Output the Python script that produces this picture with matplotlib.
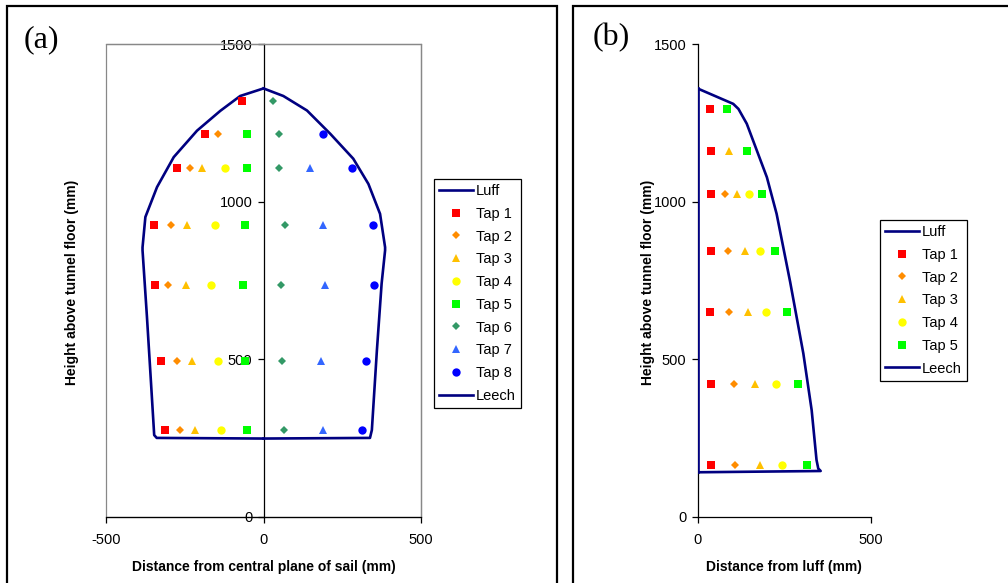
import numpy as np
import matplotlib
matplotlib.use('Agg')
import matplotlib.pyplot as plt
from matplotlib.lines import Line2D
from matplotlib.patches import Rectangle

plt.rcParams['font.family'] = ['Liberation Sans', 'DejaVu Sans']
plt.rcParams['axes.unicode_minus'] = False

# ── panel (a) data: spinnaker, taps by row (mm) ──────────────────────────────
rows_a = [1320, 1215, 1105, 925, 735, 495, 275]
taps_a = {
    'Tap 1': (rows_a,      [-68, -185, -276, -347, -344, -324, -312]),
    'Tap 2': (rows_a[1:],  [-145, -233, -293, -304, -275, -266]),
    'Tap 3': (rows_a[2:],  [-195, -242, -246, -227, -217]),
    'Tap 4': (rows_a[2:],  [-121, -155, -166, -146, -136]),
    'Tap 5': (rows_a[1:],  [-51, -51, -58, -64, -58, -53]),
    'Tap 6': (rows_a,      [31, 49, 49, 69, 55, 60, 65]),
    'Tap 7': (rows_a[2:],  [149, 188, 194, 182, 190]),
    'Tap 8': (rows_a[1:],  [189, 281, 348, 352, 326, 314]),
}
luff_a_x = [0, -339, -347, -357, -370, -384, -384, -375, -338, -285, -211, -137, -74, 0]
luff_a_y = [248, 250, 259, 423, 634, 845, 855, 951, 1046, 1141, 1225, 1288, 1335, 1359]
leech_a_x = [0, 63, 138, 212, 285, 333, 370, 386, 386, 375, 360, 344, 338, 0]
leech_a_y = [1359, 1335, 1289, 1215, 1136, 1056, 961, 855, 845, 740, 528, 275, 250, 248]

# ── panel (b) data: jib ───────────────────────────────────────────────────────
rows_b = [1294, 1160, 1025, 844, 649, 420, 165]
taps_b = {
    'Tap 1': (rows_b,     [36, 39, 39, 39, 36, 39, 39]),
    'Tap 2': (rows_b[2:], [78, 88, 91, 104, 109]),
    'Tap 3': (rows_b[1:], [92, 113, 137, 146, 165, 179]),
    'Tap 4': (rows_b[2:], [149, 181, 198, 225, 243]),
    'Tap 5': (rows_b,     [86, 143, 186, 224, 257, 289, 316]),
}
luff_b_x = [0, 0]
luff_b_y = [141, 1359]
leech_b_x = [0, 103, 118, 142, 200, 228, 267, 305, 329, 343, 348, 355, 0]
leech_b_y = [1359, 1310, 1294, 1247, 1077, 961, 745, 518, 338, 180, 153, 145, 141]

STYLE = {
    'Tap 1': dict(marker='s', color='#FF0000', ms=5.5),
    'Tap 2': dict(marker='D', color='#FF8C00', ms=4.5),
    'Tap 3': dict(marker='^', color='#FFC000', ms=6),
    'Tap 4': dict(marker='o', color='#FFFF00', ms=6),
    'Tap 5': dict(marker='s', color='#00FF00', ms=5.5),
    'Tap 6': dict(marker='D', color='#339966', ms=4.5),
    'Tap 7': dict(marker='^', color='#3366FF', ms=6),
    'Tap 8': dict(marker='o', color='#0000FF', ms=6),
}
NAVY = '#000080'

W, H = 1008, 583
fig = plt.figure(figsize=(W / 100, H / 100), dpi=100)

# outer panel frames
fig.patches.append(Rectangle((7 / W, -0.05), 550 / W, 1.05 - 6 / H, transform=fig.transFigure,
                             fill=False, edgecolor='black', linewidth=1.6))
fig.patches.append(Rectangle((573 / W, -0.05), 0.5, 1.05 - 6 / H, transform=fig.transFigure,
                             fill=False, edgecolor='black', linewidth=1.6))


def fig_box(x0, x1, ytop, ybot):
    return [x0 / W, 1 - ybot / H, (x1 - x0) / W, (ybot - ytop) / H]


def draw_taps(ax, taps, lx, ly, rx, ry):
    handles = []
    ax.plot(lx, ly, color=NAVY, linewidth=1.9, zorder=3)
    handles.append(Line2D([0], [0], color=NAVY, linewidth=1.9, label='Luff'))
    for name, (ys, xs) in taps.items():
        st = STYLE[name]
        ax.plot(xs, ys, linestyle='none', marker=st['marker'], color=st['color'],
                markersize=st['ms'], markeredgewidth=0, zorder=4)
        handles.append(Line2D([0], [0], linestyle='none', marker=st['marker'],
                              color=st['color'], markersize=st['ms'],
                              markeredgewidth=0, label=name))
    ax.plot(rx, ry, color=NAVY, linewidth=1.9, zorder=3)
    handles.append(Line2D([0], [0], color=NAVY, linewidth=1.9, label='Leech'))
    return handles


def style_axes(ax, xlim, xticks, xlabel):
    ax.set_xlim(*xlim)
    ax.set_ylim(0, 1500)
    ax.set_xticks(xticks)
    ax.set_yticks([0, 500, 1000, 1500])
    ax.spines['left'].set_position(('data', 0))
    for s in ('left', 'bottom'):
        ax.spines[s].set_color('black')
        ax.spines[s].set_linewidth(0.9)
    ax.tick_params(direction='out', length=4, width=0.9, labelsize=10.5)
    ax.tick_params(axis='x', pad=8)
    ax.tick_params(axis='y', pad=4)
    ax.set_xlabel(xlabel, fontsize=10, fontweight='bold', labelpad=9)


LEG_KW = dict(loc='upper left', bbox_transform=fig.transFigure, fontsize=10.5,
              frameon=True, fancybox=False, edgecolor='black', framealpha=1,
              handlelength=2.3, handletextpad=0.2, labelspacing=0.6,
              borderpad=0.35, borderaxespad=0)

# ── (a) ───────────────────────────────────────────────────────────────────────
ax1 = fig.add_axes(fig_box(106, 421, 44, 516.7))
h1 = draw_taps(ax1, taps_a, luff_a_x, luff_a_y, leech_a_x, leech_a_y)
style_axes(ax1, (-500, 500), [-500, 0, 500], 'Distance from central plane of sail (mm)')
for s in ('top', 'right'):
    ax1.spines[s].set_color('#888888')
    ax1.spines[s].set_linewidth(0.9)
ax1.add_patch(Rectangle((0, 0), 1, 1, transform=ax1.transAxes, fill=False,
                        edgecolor='#888888', linewidth=0.9, zorder=0, clip_on=False))
fig.text(72 / W, 1 - 282 / H, 'Height above tunnel floor (mm)', rotation=90,
         ha='center', va='center', fontsize=10, fontweight='bold')
leg1 = ax1.legend(handles=h1, bbox_to_anchor=(434 / W, 1 - 179 / H), **LEG_KW)
leg1.get_frame().set_linewidth(0.9)
fig.text(24 / W, 1 - 40 / H, '(a)', fontsize=23, family='Liberation Serif',
         ha='left', va='center')

# ── (b) ───────────────────────────────────────────────────────────────────────
ax2 = fig.add_axes(fig_box(697.5, 871, 44, 516.7))
h2 = draw_taps(ax2, taps_b, luff_b_x, luff_b_y, leech_b_x, leech_b_y)
style_axes(ax2, (0, 500), [0, 500], 'Distance from luff (mm)')
for s in ('top', 'right'):
    ax2.spines[s].set_visible(False)
fig.text(648 / W, 1 - 282 / H, 'Height above tunnel floor (mm)', rotation=90,
         ha='center', va='center', fontsize=10, fontweight='bold')
leg2 = ax2.legend(handles=h2, bbox_to_anchor=(880 / W, 1 - 220 / H), **LEG_KW)
leg2.get_frame().set_linewidth(0.9)
fig.text(593 / W, 1 - 38 / H, '(b)', fontsize=23, family='Liberation Serif',
         ha='left', va='center')

fig.savefig('out.png', dpi=100)
